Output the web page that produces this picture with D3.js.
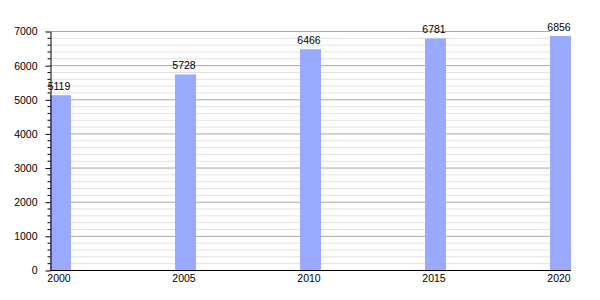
<!DOCTYPE html>
<html><head><meta charset="utf-8">
<script src="https://cdn.jsdelivr.net/npm/d3@7"></script>
<style>body{margin:0;background:#fff}text{font-family:"Liberation Sans",Arial,sans-serif}</style>
</head><body><svg id="c" width="600" height="300"></svg>
<script>
const years = [2000, 2005, 2010, 2015, 2020];
const values = [5119, 5728, 6466, 6781, 6856];
const yMajorTicks = [0, 1000, 2000, 3000, 4000, 5000, 6000, 7000];

const svg = d3.select("#c");
const x = d3.scaleLinear().domain([2000, 2020]).range([50, 550]);
const y = d3.scaleLinear().domain([0, 7000]).range([270, 31]);
const barW = 21;
const minor = d3.range(0, 7001, 200).filter(v => v % 1000 !== 0);

svg.append("g").selectAll("line").data(minor).join("line")
  .attr("x1", 50).attr("x2", 550).attr("y1", d => y(d) + 0.5).attr("y2", d => y(d) + 0.5)
  .attr("stroke", "#e2e2e2").attr("stroke-width", 1);
svg.append("g").selectAll("line").data(yMajorTicks.filter(d => d > 0)).join("line")
  .attr("x1", 50).attr("x2", 550).attr("y1", d => y(d) + 0.5).attr("y2", d => y(d) + 0.5)
  .attr("stroke", "#a8a8a8").attr("stroke-width", 1);

svg.append("g").selectAll("rect").data(values).join("rect")
  .attr("x", (d, i) => x(years[i])).attr("width", barW)
  .attr("y", d => y(d)).attr("height", d => y(0) - y(d))
  .attr("fill", "#99aaff");

svg.append("g").selectAll("text").data(values).join("text")
  .attr("x", (d, i) => x(years[i]) + 9).attr("y", d => y(d) - 5)
  .attr("text-anchor", "middle").attr("font-size", "10.5px").attr("fill", "#000")
  .text(d => d);

// y axis
const yAxis = svg.append("g").attr("transform", "translate(50.5,0.5)")
  .call(d3.axisLeft(y).tickValues(yMajorTicks).tickSize(5).tickSizeOuter(0).tickPadding(8).tickFormat(d3.format("d")));
yAxis.select(".domain").attr("stroke", "#000");
yAxis.selectAll("text").attr("font-size", "10.5px").attr("font-family", "Liberation Sans, Arial, sans-serif").attr("fill", "#000");
svg.append("g").attr("transform", "translate(50.5,0.5)").selectAll("line").data(minor).join("line")
  .attr("x1", -3).attr("x2", 0).attr("y1", d => y(d)).attr("y2", d => y(d)).attr("stroke", "#000");

// x axis
svg.append("line").attr("x1", 50).attr("x2", 571).attr("y1", 270.5).attr("y2", 270.5).attr("stroke", "#000");
svg.append("g").selectAll("text").data(years).join("text")
  .attr("x", d => x(d) + 9).attr("y", 282)
  .attr("text-anchor", "middle").attr("font-size", "10.5px").attr("fill", "#000")
  .text(d => d);
</script></body></html>
